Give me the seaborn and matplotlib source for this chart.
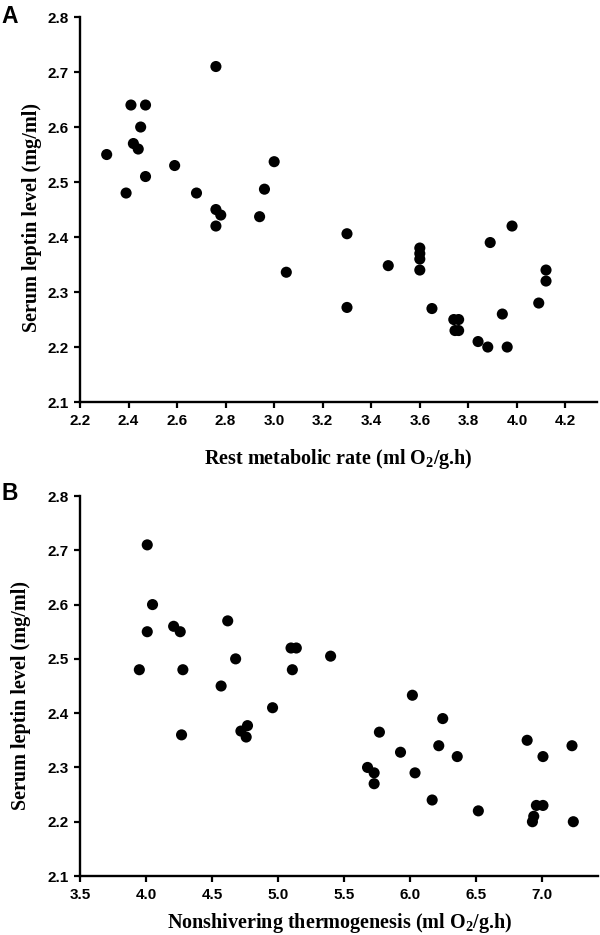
import numpy as np
import pandas as pd
import matplotlib
matplotlib.use("Agg")
import matplotlib.pyplot as plt
import seaborn as sns

# panel A: rest metabolic rate vs serum leptin
rmr = [2.31, 2.41, 2.47, 2.45, 2.42, 2.44, 2.39, 2.47, 2.59, 2.68,
       2.76, 2.76, 2.78, 2.76, 2.94, 2.96, 3.00, 3.05, 3.30, 3.30,
       3.47, 3.60, 3.60, 3.60, 3.60, 3.65, 3.74, 3.76, 3.745, 3.76,
       3.84, 3.88, 3.96, 3.89, 3.98, 3.94, 4.09, 4.12, 4.12]
leptin_a = [2.55, 2.64, 2.64, 2.60, 2.57, 2.56, 2.48, 2.51, 2.53, 2.48,
            2.71, 2.45, 2.44, 2.42, 2.437, 2.487, 2.537, 2.336, 2.406, 2.272,
            2.348, 2.38, 2.37, 2.36, 2.34, 2.27, 2.25, 2.25, 2.23, 2.23,
            2.21, 2.20, 2.20, 2.39, 2.42, 2.26, 2.28, 2.34, 2.32]

# panel B: nonshivering thermogenesis vs serum leptin
nst = [4.01, 4.05, 4.01, 4.21, 4.26, 4.62, 4.68, 5.10, 5.14, 5.40,
       3.95, 4.28, 5.11, 4.57, 4.96, 4.27, 4.77, 4.72, 4.76, 6.02,
       6.25, 5.77, 5.93, 6.22, 6.36, 5.68, 5.73, 5.73, 6.04, 6.17,
       6.52, 6.89, 7.01, 7.23, 6.96, 7.01, 6.94, 6.93, 7.24]
leptin_b = [2.71, 2.60, 2.55, 2.56, 2.55, 2.57, 2.50, 2.52, 2.52, 2.505,
            2.48, 2.48, 2.48, 2.45, 2.41, 2.36, 2.377, 2.367, 2.356, 2.433,
            2.39, 2.365, 2.328, 2.34, 2.32, 2.30, 2.29, 2.27, 2.29, 2.24,
            2.22, 2.35, 2.32, 2.34, 2.23, 2.23, 2.21, 2.20, 2.20]

yticks = [2.1, 2.2, 2.3, 2.4, 2.5, 2.6, 2.7, 2.8]
xticks_a = [2.2, 2.4, 2.6, 2.8, 3.0, 3.2, 3.4, 3.6, 3.8, 4.0, 4.2]
xticks_b = [3.5, 4.0, 4.5, 5.0, 5.5, 6.0, 6.5, 7.0]

dfa = pd.DataFrame({"x": rmr, "y": leptin_a})
dfb = pd.DataFrame({"x": nst, "y": leptin_b})

sns.set_theme(style="ticks")
plt.rcParams['font.family'] = ['Liberation Sans', 'DejaVu Sans']
plt.rcParams['text.color'] = 'black'
plt.rcParams['axes.labelcolor'] = 'black'
plt.rcParams['xtick.color'] = 'black'
plt.rcParams['ytick.color'] = 'black'

fig = plt.figure(figsize=(6, 9.35), dpi=100)
axA = fig.add_axes([0.1333, 0.570, 0.8617, 0.4118])
axB = fig.add_axes([0.1333, 0.0631, 0.864, 0.4064])

label_font = dict(family='Liberation Serif', weight='bold', size=14.5)


def style_axis(ax, df, xticks, xlim, xlabel, ylab_xy):
    sns.scatterplot(data=df, x="x", y="y", ax=ax, color="black", s=64,
                    edgecolor="none", linewidth=0)
    ax.set_xlim(*xlim)
    ax.set_ylim(2.1, 2.8)
    ax.set_xticks(xticks)
    ax.set_yticks(yticks)
    ax.set_xticklabels(["{:.1f}".format(v) for v in xticks])
    ax.set_yticklabels(["{:.1f}".format(v) for v in yticks])
    for lab in ax.get_xticklabels() + ax.get_yticklabels():
        lab.set_fontweight('bold')
        lab.set_fontsize(11)
    sns.despine(ax=ax)
    for sp in ["left", "bottom"]:
        ax.spines[sp].set_linewidth(1.7)
        ax.spines[sp].set_color("black")
    ax.tick_params(axis="both", direction="out", length=4.3, width=1.6,
                   color="black", pad=4)
    ax.set_xlabel(xlabel, fontdict=label_font)
    ax.set_ylabel("Serum leptin level (mg/ml)", fontdict=label_font)
    ax.yaxis.set_label_coords(*ylab_xy)


style_axis(axA, dfa, xticks_a, (2.2, 4.33),
           r"Rest metabolic rate (ml O$_\mathregular{2}$/g.h)", (-0.073, 0.48))
axA.xaxis.labelpad = 14
style_axis(axB, dfb, xticks_b, (3.5, 7.43),
           r"Nonshivering thermogenesis (ml O$_\mathregular{2}$/g.h)", (-0.095, 0.474))
axB.xaxis.labelpad = 7

fig.text(0.002, 0.995, "A", fontsize=16.5, fontweight="bold", va="top", ha="left")
fig.text(0.002, 0.484, "B", fontsize=16.5, fontweight="bold", va="top", ha="left")

fig.savefig("out.png", dpi=100)
